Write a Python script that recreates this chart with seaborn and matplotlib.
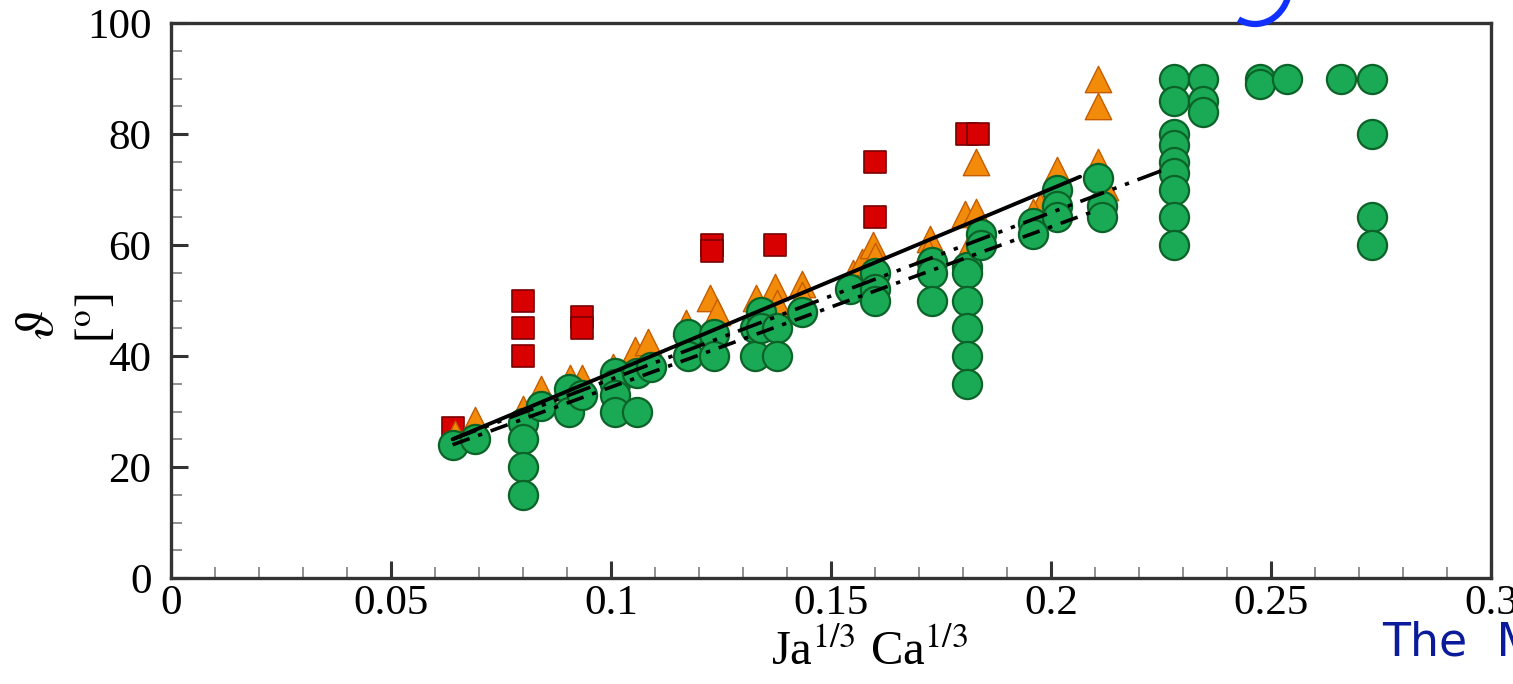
import seaborn as sns
import matplotlib.pyplot as plt
import pandas as pd
from matplotlib.patches import Arc
from matplotlib.ticker import MultipleLocator

# green circles
circle_x = [0.064, 0.069,
            0.080, 0.080, 0.080, 0.080,
            0.084, 0.0905, 0.0905, 0.0935,
            0.101, 0.101, 0.101, 0.101, 0.106, 0.106, 0.109,
            0.1175, 0.1175, 0.1235, 0.1235,
            0.1327, 0.1327, 0.134, 0.134, 0.1377, 0.1377, 0.1434,
            0.1543, 0.160, 0.160, 0.160,
            0.173, 0.173, 0.173,
            0.181, 0.181, 0.181, 0.181, 0.181, 0.181, 0.184, 0.184,
            0.196, 0.196, 0.2013, 0.2013, 0.2013, 0.2107, 0.2116, 0.2116,
            0.228, 0.228, 0.228, 0.228, 0.228, 0.228, 0.228, 0.228, 0.228,
            0.2345, 0.2345, 0.2345,
            0.2475, 0.2475, 0.2536, 0.266,
            0.273, 0.273, 0.273, 0.273]
circle_y = [24, 25,
            28, 25, 20, 15,
            31, 34, 30, 33,
            37, 35, 33, 30, 37, 30, 38,
            44, 40, 44, 40,
            45, 40, 48, 45, 45, 40, 48,
            52, 55, 52, 50,
            57, 55, 50,
            56, 55, 50, 45, 40, 35, 62, 60,
            64, 62, 70, 67, 65, 72, 67, 65,
            90, 86, 80, 78, 75, 73, 70, 65, 60,
            90, 86, 84,
            90, 89, 90, 90,
            90, 80, 65, 60]

# orange triangles
tri_x = [0.0645, 0.069, 0.080, 0.084, 0.0907, 0.0934, 0.1005, 0.1055, 0.1085,
         0.117, 0.1225, 0.124, 0.133, 0.1373, 0.1377, 0.1434, 0.1434,
         0.155, 0.157, 0.1595, 0.160, 0.160, 0.1725, 0.172,
         0.1805, 0.183, 0.181, 0.183, 0.1975, 0.196, 0.2013,
         0.2107, 0.2107, 0.2107, 0.2123, 0.2275]
tri_y = [26, 28.5, 30.5, 34, 36, 36, 38, 41, 42.5,
         46, 50.5, 48, 50.5, 52.5, 49.5, 53, 51,
         55, 57, 60, 58, 55, 61, 59,
         65.5, 66, 59, 75, 67, 66, 73.5,
         90, 85, 75, 70.5, 76]

# red squares
sq_x = [0.064, 0.080, 0.080, 0.080, 0.0934, 0.0934, 0.123, 0.123, 0.1373,
        0.160, 0.160, 0.181, 0.1834]
sq_y = [27, 50, 45, 40, 47, 45, 60, 59, 60, 75, 65, 80, 80]

# correlation lines (start, end)
solid_x, solid_y = [0.064, 0.2066], [25, 72.3]
dashdotdot_x, dashdotdot_y = [0.064, 0.2255], [25, 73.5]
dashdot_x, dashdot_y = [0.064, 0.2105], [24, 66.3]

xticks = [0, 0.05, 0.1, 0.15, 0.2, 0.25, 0.3]
xtick_labels = ['0', '0.05', '0.1', '0.15', '0.2', '0.25', '0.3']
yticks = [0, 20, 40, 60, 80, 100]

sns.set_style('white')
plt.rcParams['font.family'] = ['Liberation Serif', 'DejaVu Serif']
plt.rcParams['mathtext.fontset'] = 'stix'
plt.rcParams['text.color'] = 'black'

fig = plt.figure(figsize=(15.13, 6.84), dpi=100)
ax = fig.add_axes([171 / 1513, 106 / 684, 1320 / 1513, 555 / 684])

sq = pd.DataFrame({'x': sq_x, 'y': sq_y})
tri = pd.DataFrame({'x': tri_x, 'y': tri_y})
circ = pd.DataFrame({'x': circle_x, 'y': circle_y})

sns.scatterplot(data=sq, x='x', y='y', marker='s', s=240, color='#d80000',
                edgecolor='#7a0000', linewidth=1.2, ax=ax, zorder=3)
sns.scatterplot(data=tri, x='x', y='y', marker='^', s=360, color='#f28a0a',
                edgecolor='#c45c00', linewidth=1.0, ax=ax, zorder=4)
sns.scatterplot(data=circ, x='x', y='y', marker='o', s=440, color='#1aa955',
                edgecolor='#0b6328', linewidth=1.6, ax=ax, zorder=5)

sns.lineplot(x=solid_x, y=solid_y, color='black', linewidth=2.8, ax=ax,
             zorder=6, linestyle='-')
sns.lineplot(x=dashdotdot_x, y=dashdotdot_y, color='black', linewidth=2.6, ax=ax,
             zorder=6, linestyle=(0, (7, 2.5, 1.2, 2.5, 1.2, 2.5)))
sns.lineplot(x=dashdot_x, y=dashdot_y, color='black', linewidth=2.6, ax=ax,
             zorder=6, linestyle=(0, (5, 2.5, 1.2, 2.5)))

ax.set_xlim(0, 0.3)
ax.set_ylim(0, 100)
ax.set_xticks(xticks)
ax.set_xticklabels(xtick_labels)
ax.set_yticks(yticks)
ax.xaxis.set_minor_locator(MultipleLocator(0.01))
ax.yaxis.set_minor_locator(MultipleLocator(5))
ax.tick_params(which='both', direction='in', bottom=True, left=True,
               top=False, right=False, color='#333333', labelsize=31,
               labelcolor='black', width=2.2)
ax.tick_params(which='major', length=12)
ax.tick_params(which='minor', length=8, width=1.3, color='#888888')
ax.tick_params(axis='y', pad=14)
ax.tick_params(axis='x', pad=5)
for s in ax.spines.values():
    s.set_color('#333333')
    s.set_linewidth(2.4)
ax.set_xlabel('')
ax.set_ylabel('')

fig.text(870 / 1513, 1 - 652 / 684, 'Ja$^{1/3}$ Ca$^{1/3}$', ha='center',
         va='center', fontsize=35, color='black')
fig.text(40 / 1513, 1 - 325 / 684, r'$\vartheta$', rotation=90, ha='center',
         va='center', fontsize=38, color='black')
fig.text(97 / 1513, 1 - 318 / 684, r'[$^{\mathrm{o}}$]', rotation=90,
         ha='center', va='center', fontsize=34, color='black')

# slide remnants
fig.text(1382 / 1513, 1 - 656 / 684, 'The  M', color='#0a1a9a', fontsize=33,
         family='DejaVu Sans', ha='left', va='baseline')
fig.add_artist(Arc((1255, 700), 70, 80, theta1=245, theta2=350,
                   transform=None, color='#1030ff', linewidth=4.5))

fig.savefig('out.png', dpi=100)
